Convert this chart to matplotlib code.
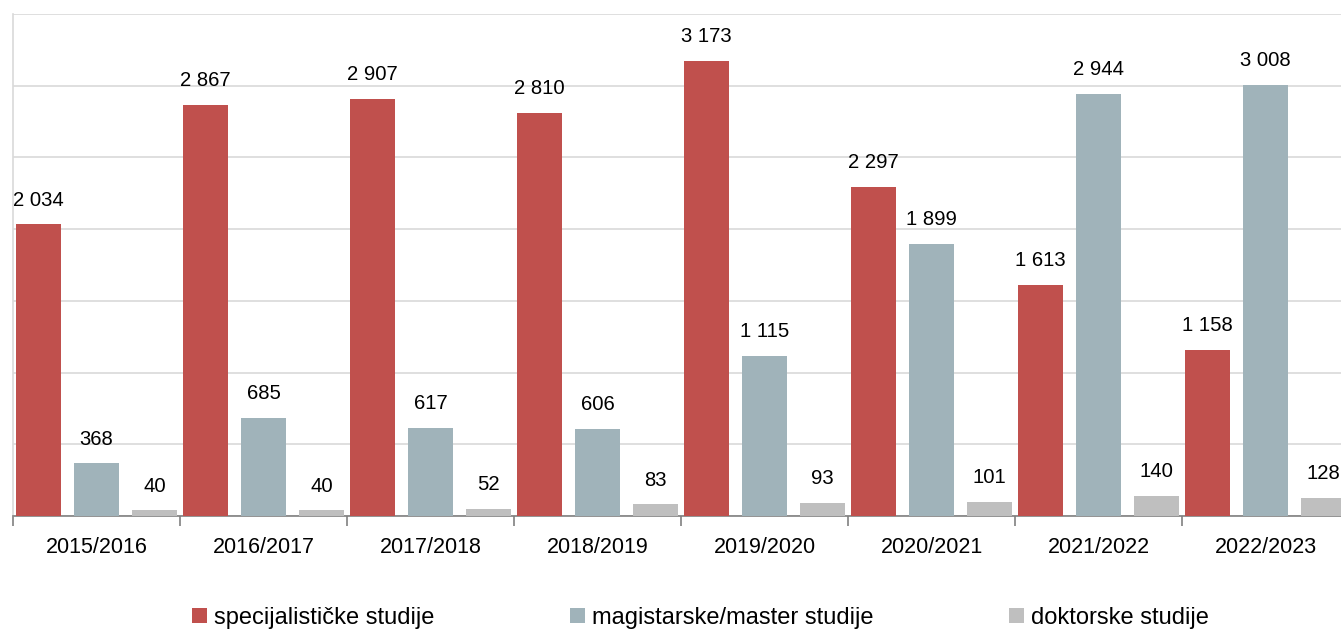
import matplotlib
matplotlib.use("Agg")
import matplotlib.pyplot as plt
import numpy as np
from matplotlib.patches import Patch

plt.rcParams['font.family'] = ['Liberation Sans', 'DejaVu Sans']

years = ["2015/2016", "2016/2017", "2017/2018", "2018/2019",
         "2019/2020", "2020/2021", "2021/2022", "2022/2023"]
specijalisticke = [2034, 2867, 2907, 2810, 3173, 2297, 1613, 1158]
magistarske = [368, 685, 617, 606, 1115, 1899, 2944, 3008]
doktorske = [40, 40, 52, 83, 93, 101, 140, 128]
series_names = ["specijalističke studije", "magistarske/master studije", "doktorske studije"]
colors = ["#C0504D", "#A0B3BA", "#BFBFBF"]

fig = plt.figure(figsize=(13.41, 6.32), dpi=100)
ax = fig.add_axes([13/1341, 116/632, 1336/1341, 502/632])

x = np.arange(len(years))
w = 0.265
offs = [-0.348, 0.0, 0.348]
for data, off, c in zip([specijalisticke, magistarske, doktorske], offs, colors):
    bars = ax.bar(x + off, data, width=w, color=c, zorder=3)
    for b, v in zip(bars, data):
        s = f"{v:,}".replace(",", " ")
        ax.annotate(s, (b.get_x() + b.get_width()/2, v), xytext=(0, 10.5),
                    textcoords="offset points", ha="center", va="bottom",
                    fontsize=14.6, color="#000000")

ax.set_xlim(-0.5, len(years) - 0.5)
ax.set_ylim(0, 3500)
ax.set_yticks(np.arange(0, 3501, 500))
ax.yaxis.grid(True, color="#D9D9D9", linewidth=1.2, zorder=0)
ax.tick_params(axis='y', left=False, labelleft=False)
ax.set_xticks(x)
ax.set_xticklabels(years, fontsize=15.5)
ax.set_xticks(np.arange(-0.5, len(years)), minor=True)
ax.tick_params(axis='x', which='major', length=0, pad=15)
ax.tick_params(axis='x', which='minor', length=7, width=1.2, color="#808080", direction='out')
for sp in ['top', 'right']:
    ax.spines[sp].set_visible(False)
ax.spines['left'].set_color("#D9D9D9")
ax.spines['left'].set_linewidth(1.2)
ax.spines['bottom'].set_color("#808080")
ax.spines['bottom'].set_linewidth(1.2)

handles = [Patch(facecolor=c, edgecolor='none') for c in colors]
fig.legend(handles, series_names, loc='center', bbox_to_anchor=(0.5224, 14/632),
           ncol=3, frameon=False, fontsize=17, handlelength=0.62, handleheight=0.62,
           handletextpad=0.3, columnspacing=5.75)

fig.savefig("out.png", dpi=100)
